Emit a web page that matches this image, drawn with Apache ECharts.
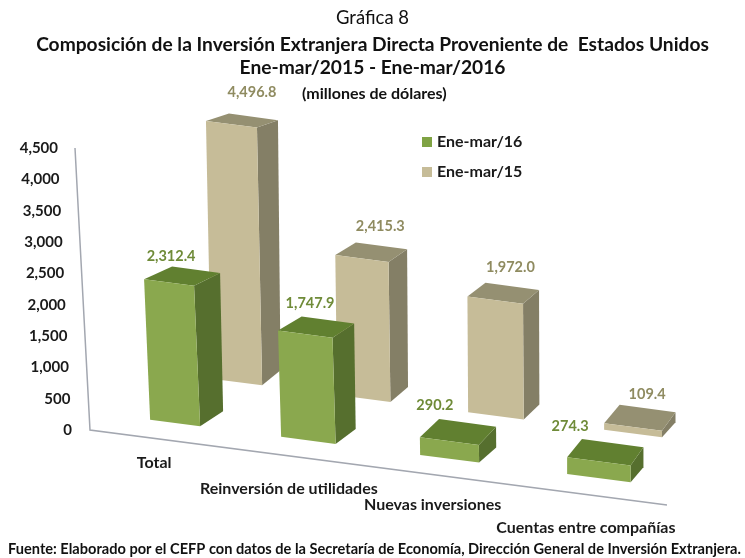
<!DOCTYPE html>
<html>
<head>
<meta charset="utf-8">
<style>
  html, body { margin: 0; background: #fff; }
  #chart { width: 745px; height: 558px; }
</style>
<script src="https://cdn.jsdelivr.net/npm/echarts@6/dist/echarts.min.js"></script>
</head>
<body>
<div id="chart"></div>
<script>
const categories = ['Total', 'Reinversión de utilidades', 'Nuevas inversiones', 'Cuentas entre compañías']
const seriesNames = ['Ene-mar/16', 'Ene-mar/15']
const values2016 = [2312.4, 1747.9, 290.2, 274.3]
const values2015 = [4496.8, 2415.3, 1972.0, 109.4]
const yTicks = [0, 500, 1000, 1500, 2000, 2500, 3000, 3500, 4000, 4500]

const font = 'Lato'
const slope = 75 / 577 // caida del eje X

// vista 3D de cada serie: desplazamiento desde el centro de la banda, ancho, fondo, inclinacion
const view2016 = {
  left: i => -12 - 17.25 * i + 4 * i * i,
  width: i => 50 + 4.5 * i,
  depth: i => 26 - 4.4 * i,
  lean: i => Math.max(0, 0.043 - 0.014 * i),
  base: -18, scale: () => 0.97,
  front: '#8aa84e', top: '#618030', side: '#566f2e', label: '#6f8b38',
  labelX: [27, 32, 15, 3], labelY: [-23, -27, -32, -31]
}
const view2015 = {
  left: i => 49 - 20.75 * i + 2.5 * i * i,
  width: i => 51 + 2.3 * i,
  depth: i => 21 - 2.5 * i,
  lean: i => Math.max(0, 0.02 - 0.007 * i),
  base: -67, scale: i => 0.915 + 0.01 * i,
  front: '#c6bc98', top: '#959072', side: '#847f66', label: '#8f8b60',
  labelX: [46, 45, 43, 43], labelY: [-29, -29, -29, -29]
}

const poly = (points, fill) => ({ type: 'polygon', shape: { points }, style: { fill } })

const renderBar = (view) => (params, api) => {
  const i = api.value(0)
  const v = api.value(1)
  const sys = params.coordSys
  const zero = api.coord([i, 0])
  const h = (zero[1] - api.coord([i, v])[1]) * view.scale(i)
  const yAt = x => zero[1] + view.base + slope * (x - sys.x)

  const xb = zero[0] + view.left(i)
  const w = view.width(i)
  const d = view.depth(i)
  const shift = view.lean(i) * h
  const dyTop = -(19 - 0.045 * h)

  const bl = [xb, yAt(xb)]
  const br = [xb + w, yAt(xb + w)]
  const tl = [xb - shift, yAt(xb) - h]
  const tr = [xb + w - shift, yAt(xb + w) - h]
  const backTopR = [tr[0] + d, tr[1] + dyTop]
  const backTopL = [tl[0] + d + 2, tl[1] + dyTop]
  const backBotR = [backTopR[0] + shift * 0.5, br[1] - 15]

  return {
    type: 'group',
    children: [
      poly([br, tr, backTopR, backBotR], view.side),
      poly([tl, backTopL, backTopR, tr], view.top),
      poly([bl, tl, tr, br], view.front),
      {
        type: 'text',
        z2: 10,
        style: {
          text: v.toLocaleString('en-US', { minimumFractionDigits: 1 }),
          x: tl[0] + view.labelX[i],
          y: tl[1] + view.labelY[i],
          align: 'center',
          verticalAlign: 'middle',
          fill: view.label,
          fontFamily: font,
          fontWeight: 'bold',
          fontSize: 14.5
        }
      }
    ]
  }
}

// ejes inclinados, dibujados desde el rectangulo del grid
const renderAxes = (params, api) => {
  const sys = params.coordSys
  const origin = api.coord([0, 0])
  origin[0] = sys.x
  const top = api.coord([0, 4500])
  top[0] = sys.x - 15
  const end = [sys.x + sys.width, origin[1] + slope * sys.width]
  return {
    type: 'polyline',
    shape: { points: [top, origin, end] },
    style: { fill: 'none', stroke: '#a3a7b0', lineWidth: 1.5 }
  }
}

// etiquetas del eje Y siguen la inclinacion del eje
const yRich = {}
yTicks.forEach(t => {
  yRich['t' + t] = {
    padding: [0, 14 * t / 4500, 0, 0],
    fontFamily: font, fontSize: 15, fontWeight: 'bold', color: '#1a1a1a'
  }
})

// etiquetas del eje X escalonadas: [arriba, derecha]
const xLabelPad = [[47, 16], [99, 35], [131, 36], [177, 18]]
const xRich = {}
xLabelPad.forEach((p, i) => {
  xRich['c' + i] = {
    padding: [p[0], p[1], 0, 0], lineHeight: 18,
    fontFamily: font, fontSize: 16, fontWeight: 'bold', color: '#1a1a1a'
  }
})

const titleLine = (text, top, fontWeight, fontSize) => ({
  text, top, left: 'center',
  textStyle: { fontFamily: font, fontWeight, fontSize, color: '#111' }
})

const option = {
  animation: false,
  backgroundColor: '#fff',
  title: [
    titleLine('Gráfica 8', 4, 'normal', 18.5),
    titleLine('Composición de la Inversión Extranjera Directa Proveniente de  Estados Unidos', 30, 'bold', 19.2),
    titleLine('Ene-mar/2015 - Ene-mar/2016', 53, 'bold', 19.2),
    { text: '(millones de dólares)', top: 81, left: 297,
      textStyle: { fontFamily: font, fontWeight: 'bold', fontSize: 16, color: '#111' } },
    { text: 'Fuente: Elaborado por el CEFP con datos de la Secretaría de Economía, Dirección General de Inversión Extranjera.',
      top: 537, left: 3,
      textStyle: { fontFamily: font, fontWeight: 'bold', fontSize: 14.6, color: '#111' } }
  ],
  legend: {
    data: seriesNames,
    orient: 'vertical',
    left: 417,
    top: 128,
    icon: 'rect',
    itemWidth: 10,
    itemHeight: 10,
    itemGap: 12,
    textStyle: { fontFamily: font, fontSize: 16, fontWeight: 'bold', color: '#1a1a1a', lineHeight: 18 }
  },
  grid: { left: 90, top: 148, width: 577, height: 282 },
  xAxis: {
    type: 'category',
    data: categories,
    axisLine: { show: false },
    axisTick: { show: false },
    axisLabel: {
      interval: 0,
      margin: 0,
      hideOverlap: false,
      formatter: (value, index) => `{c${index}|${value}}`,
      rich: xRich
    }
  },
  yAxis: {
    type: 'value',
    min: 0,
    max: 4500,
    interval: 500,
    axisLine: { show: false },
    axisTick: { show: false },
    splitLine: { show: false },
    axisLabel: {
      margin: 18,
      formatter: value => `{t${value}|${value.toLocaleString('en-US')}}`,
      rich: yRich
    }
  },
  series: [
    { name: 'ejes', type: 'custom', renderItem: renderAxes, data: [[0, 0]], z: 1, silent: true },
    { name: seriesNames[1], type: 'custom', renderItem: renderBar(view2015), z: 2,
      itemStyle: { color: view2015.front }, data: values2015.map((v, i) => [i, v]) },
    { name: seriesNames[0], type: 'custom', renderItem: renderBar(view2016), z: 3,
      itemStyle: { color: '#7fa344' }, data: values2016.map((v, i) => [i, v]) }
  ]
}

const chart = echarts.init(document.getElementById('chart'), null, { renderer: 'canvas' })
chart.setOption(option)
</script>
</body>
</html>
